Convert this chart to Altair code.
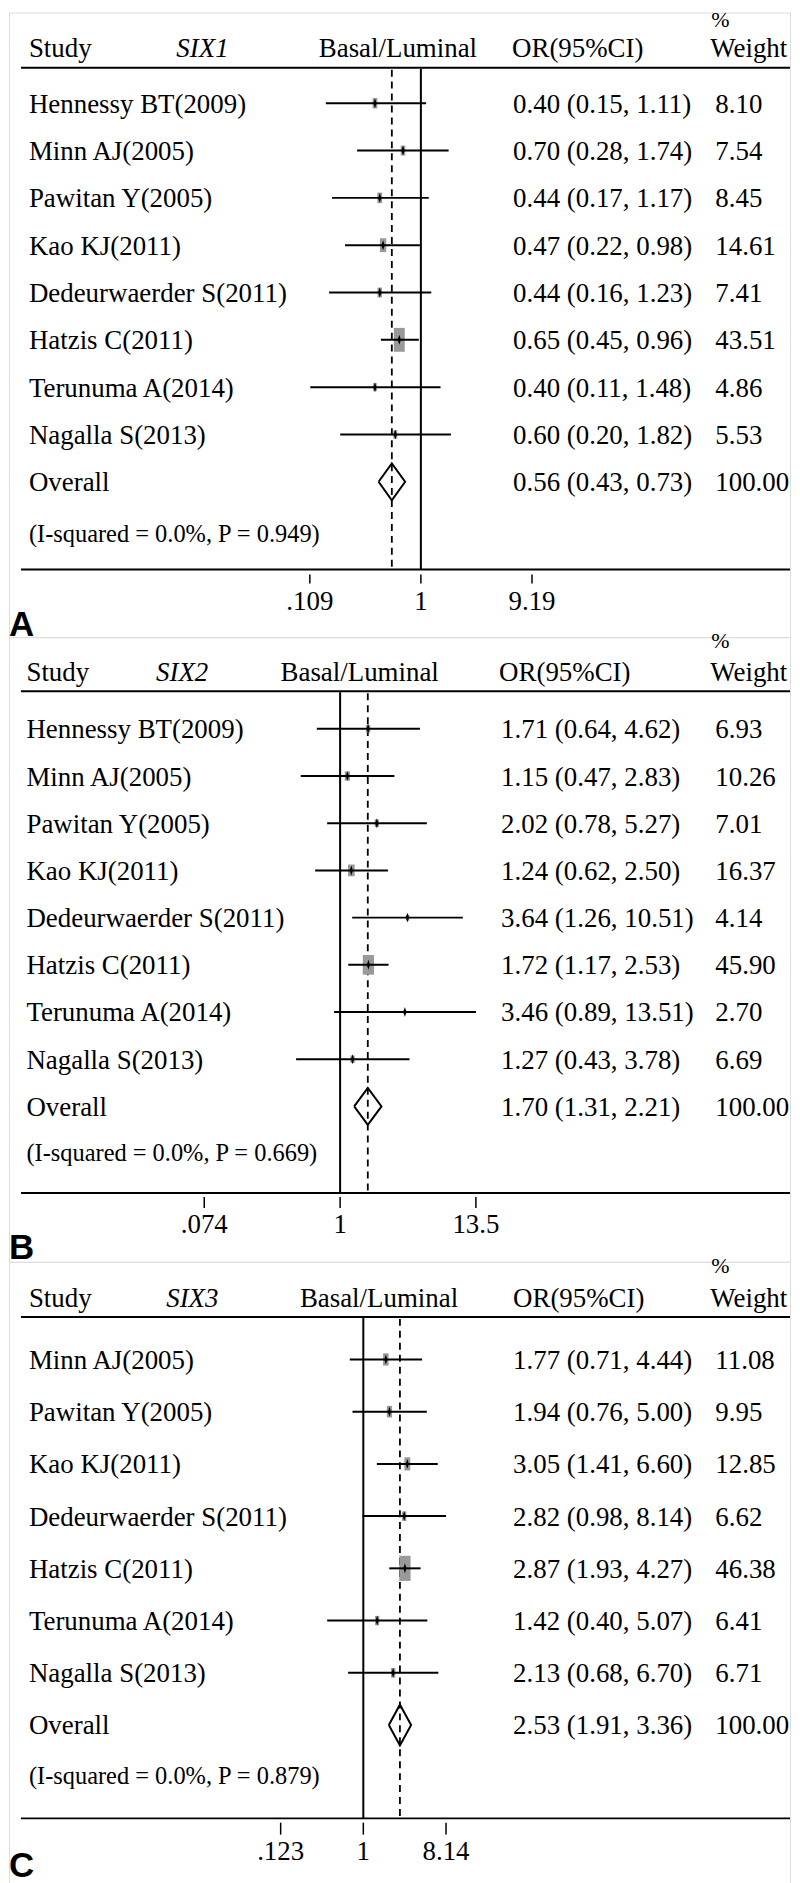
import altair as alt
import pandas as pd

# ---------------- data ----------------
studies_A = ["Hennessy BT(2009)", "Minn AJ(2005)", "Pawitan Y(2005)", "Kao KJ(2011)",
             "Dedeurwaerder S(2011)", "Hatzis C(2011)", "Terunuma A(2014)", "Nagalla S(2013)"]
or_A = [0.40, 0.70, 0.44, 0.47, 0.44, 0.65, 0.40, 0.60]
lo_A = [0.15, 0.28, 0.17, 0.22, 0.16, 0.45, 0.11, 0.20]
hi_A = [1.11, 1.74, 1.17, 0.98, 1.23, 0.96, 1.48, 1.82]
wt_A = [8.10, 7.54, 8.45, 14.61, 7.41, 43.51, 4.86, 5.53]
overall_A = [0.56, 0.43, 0.73]
het_A = "(I-squared = 0.0%, P = 0.949)"
ticks_A = [0.109, 1, 9.19]
ticklab_A = [".109", "1", "9.19"]

studies_B = studies_A
or_B = [1.71, 1.15, 2.02, 1.24, 3.64, 1.72, 3.46, 1.27]
lo_B = [0.64, 0.47, 0.78, 0.62, 1.26, 1.17, 0.89, 0.43]
hi_B = [4.62, 2.83, 5.27, 2.50, 10.51, 2.53, 13.51, 3.78]
wt_B = [6.93, 10.26, 7.01, 16.37, 4.14, 45.90, 2.70, 6.69]
overall_B = [1.70, 1.31, 2.21]
het_B = "(I-squared = 0.0%, P = 0.669)"
ticks_B = [0.074, 1, 13.5]
ticklab_B = [".074", "1", "13.5"]

studies_C = ["Minn AJ(2005)", "Pawitan Y(2005)", "Kao KJ(2011)", "Dedeurwaerder S(2011)",
             "Hatzis C(2011)", "Terunuma A(2014)", "Nagalla S(2013)"]
or_C = [1.77, 1.94, 3.05, 2.82, 2.87, 1.42, 2.13]
lo_C = [0.71, 0.76, 1.41, 0.98, 1.93, 0.40, 0.68]
hi_C = [4.44, 5.00, 6.60, 8.14, 4.27, 5.07, 6.70]
wt_C = [11.08, 9.95, 12.85, 6.62, 46.38, 6.41, 6.71]
overall_C = [2.53, 1.91, 3.36]
het_C = "(I-squared = 0.0%, P = 0.879)"
ticks_C = [0.123, 1, 8.14]
ticklab_C = [".123", "1", "8.14"]

# ---------------- style / layout ----------------
SERIF = "Liberation Serif"
FS = 27
FS_HET = 24.5
FS_PCT = 22
W = 784
H = 627
GREY = "#999999"

layout_A = dict(gene="SIX1", letter="A", xr=[302, 525], rows=[91, 471], pct=14, pct_clip=True,
                head=45, hline=55.3, isq=522, bline=559, tick=[564, 573], tlab=600, let=626,
                study_x=20, gene_x=168, basal_x=311, orh_x=505, or_x=506, wh_x=704, w_x=709,
                box_aspect=2.18, box_k=2.78)
layout_B = dict(gene="SIX2", letter="B", xr=[196, 468.7], rows=[92, 471], pct=10.5, pct_clip=False,
                head=43.5, hline=54.3, isq=517, bline=558, tick=[562, 573], tlab=598, let=624,
                study_x=17.5, gene_x=147.6, basal_x=272.6, orh_x=492, or_x=494, wh_x=704, w_x=709,
                box_aspect=1.745, box_k=7.56)
layout_C = dict(gene="SIX3", letter="C", xr=[272.7, 438.7], rows=[98, 465], pct=11, pct_clip=False,
                head=45.3, hline=55.3, isq=515, bline=558.7, tick=[563, 575], tlab=600, let=618,
                study_x=20, gene_x=157.8, basal_x=292, orh_x=506, or_x=506, wh_x=704, w_x=709,
                box_aspect=2.22, box_k=2.25)

one = pd.DataFrame({"k": [0]})


def txt(s, x, y, **kw):
    base = dict(text=s, align="left", baseline="alphabetic", font=SERIF, fontSize=FS, color="black", clip=True)
    base.update(kw)
    return alt.Chart(one).mark_text(**base).encode(x=alt.value(x), y=alt.value(y))


def hline(y, x0=12, x1=W):
    return alt.Chart(one).mark_rule(color="black", strokeWidth=2).encode(
        x=alt.value(x0), x2=alt.value(x1), y=alt.value(y))


def panel(studies, ors, los, his, wts, overall, het, ticks, ticklabs, L):
    n = len(studies)
    xs = alt.Scale(type="log", domain=[ticks[0], ticks[-1]], range=L["xr"], nice=False)
    ys = alt.Scale(type="linear", domain=[1, n + 1], range=L["rows"], nice=False, zero=False)

    df = pd.DataFrame({
        "study": studies, "row": list(range(1, n + 1)),
        "or": ors, "lo": los, "hi": his, "w": wts,
        "ortxt": [f"{a:.2f} ({b:.2f}, {c:.2f})" for a, b, c in zip(ors, los, his)],
        "wtxt": [f"{w:.2f}" for w in wts],
    })
    tab = pd.concat([df[["study", "row", "ortxt", "wtxt"]],
                     pd.DataFrame({"study": ["Overall"], "row": [n + 1],
                                   "ortxt": [f"{overall[0]:.2f} ({overall[1]:.2f}, {overall[2]:.2f})"],
                                   "wtxt": ["100.00"]})], ignore_index=True)
    hd = 0.39
    dia = pd.DataFrame({"x": [overall[1], overall[0], overall[2], overall[0], overall[1]],
                        "y": [n + 1, n + 1 - hd, n + 1, n + 1 + hd, n + 1],
                        "o": [0, 1, 2, 3, 4]})
    tk = pd.DataFrame({"v": ticks, "lab": ticklabs})

    X = lambda f: alt.X(f, scale=xs, axis=None)
    Y = lambda f: alt.Y(f, scale=ys, axis=None)

    layers = []
    # header
    layers.append(txt("%", L["wh_x"] + 1, L["pct"], fontSize=FS_PCT, clip=L["pct_clip"]))
    layers.append(txt("Study", L["study_x"], L["head"]))
    layers.append(txt(L["gene"], L["gene_x"], L["head"], fontStyle="italic"))
    layers.append(txt("Basal/Luminal", L["basal_x"], L["head"]))
    layers.append(txt("OR(95%CI)", L["orh_x"], L["head"]))
    layers.append(txt("Weight", L["wh_x"], L["head"]))
    layers.append(hline(L["hline"]))
    layers.append(hline(L["bline"]))
    # reference lines
    layers.append(alt.Chart(pd.DataFrame({"v": [1.0]})).mark_rule(color="black", strokeWidth=2).encode(
        x=X("v:Q"), y=alt.value(L["hline"] + 1), y2=alt.value(L["bline"])))
    layers.append(alt.Chart(pd.DataFrame({"v": [overall[0]]})).mark_rule(
        color="black", strokeWidth=1.8, strokeDash=[7, 5]).encode(
        x=X("v:Q"), y=alt.value(L["hline"] + 2), y2=alt.value(L["bline"])))
    # boxes
    rect = "M-1,-{a}L1,-{a}L1,{a}L-1,{a}Z".format(a=L["box_aspect"])
    layers.append(alt.Chart(df).mark_point(shape=rect, filled=True, color=GREY, opacity=1, strokeWidth=0).encode(
        x=X("or:Q"), y=Y("row:Q"),
        size=alt.Size("w:Q", scale=alt.Scale(domain=[0, 100], range=[0, L["box_k"] * 100], zero=True), legend=None)))
    # CI lines
    layers.append(alt.Chart(df).mark_rule(color="black", strokeWidth=2).encode(
        x=X("lo:Q"), x2="hi:Q", y=Y("row:Q")))
    # point markers
    layers.append(alt.Chart(df).mark_point(shape="M0,-1L0.32,0L0,1L-0.32,0Z", filled=True, color="black",
                                           opacity=1, size=100, strokeWidth=0).encode(
        x=X("or:Q"), y=Y("row:Q")))
    # overall diamond
    layers.append(alt.Chart(dia).mark_line(color="black", strokeWidth=2).encode(
        x=X("x:Q"), y=Y("y:Q"), order="o:O"))
    # row texts
    tbase = dict(align="left", baseline="alphabetic", font=SERIF, fontSize=FS, color="black", dy=9.5, clip=True)
    layers.append(alt.Chart(tab).mark_text(**tbase).encode(x=alt.value(L["study_x"]), y=Y("row:Q"), text="study:N"))
    layers.append(alt.Chart(tab).mark_text(**tbase).encode(x=alt.value(L["or_x"]), y=Y("row:Q"), text="ortxt:N"))
    layers.append(alt.Chart(tab).mark_text(**tbase).encode(x=alt.value(L["w_x"]), y=Y("row:Q"), text="wtxt:N"))
    layers.append(txt(het, L["study_x"], L["isq"] + 9, fontSize=FS_HET))
    # ticks
    layers.append(alt.Chart(tk).mark_rule(color="black", strokeWidth=1.5).encode(
        x=X("v:Q"), y=alt.value(L["tick"][0]), y2=alt.value(L["tick"][1])))
    layers.append(alt.Chart(tk).mark_text(align="center", baseline="alphabetic", font=SERIF, fontSize=FS,
                                          color="black", clip=True).encode(
        x=X("v:Q"), y=alt.value(L["tlab"]), text="lab:N"))
    # panel letter
    layers.append(txt(L["letter"], 0, L["let"], font="Liberation Sans", fontWeight="bold", fontSize=35))

    return alt.layer(*layers).properties(width=W, height=H)


pA = panel(studies_A, or_A, lo_A, hi_A, wt_A, overall_A, het_A, ticks_A, ticklab_A, layout_A)
pB = panel(studies_B, or_B, lo_B, hi_B, wt_B, overall_B, het_B, ticks_B, ticklab_B, layout_B)
pC = panel(studies_C, or_C, lo_C, hi_C, wt_C, overall_C, het_C, ticks_C, ticklab_C, layout_C)

chart = alt.vconcat(pA, pB, pC, spacing=0, bounds="flush").properties(
    padding={"left": 0, "top": 0, "right": 0, "bottom": 0}
).configure_view(stroke=None).configure(background="white")

chart.save("out.html", embed_options={"renderer": "svg", "actions": False})
